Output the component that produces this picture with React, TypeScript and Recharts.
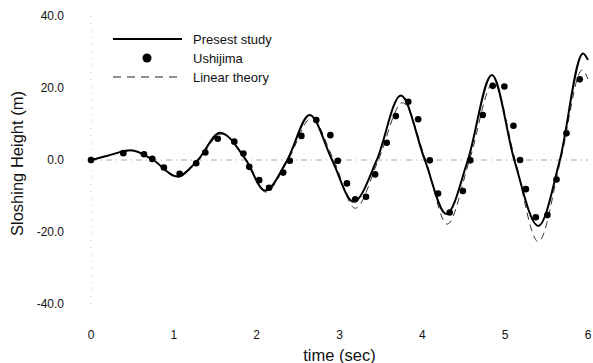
import React from "react"
import {
  ComposedChart,
  Line,
  Scatter,
  XAxis,
  YAxis,
  ReferenceLine,
} from "recharts"

// time (sec) ticks and sloshing height ticks
const timeTicks = [0, 1, 2, 3, 4, 5, 6]
const heightTicks = [-40, -20, 0, 20, 40]

// Presest study (solid line): extrema and zero crossings
const presestTime = [0, 0.2, 0.48, 0.75, 1.04, 1.29, 1.56, 1.87, 2.1, 2.37, 2.64, 2.91, 3.17, 3.45, 3.74, 4.03, 4.29, 4.55, 4.84, 5.11, 5.4, 5.66, 5.94, 6.0]
const presestHeight = [0, 1.2, 2.7, 0, -4.6, 0, 7.6, 0, -8.5, 0, 12.5, 0, -11.6, 0, 17.9, 0, -15.0, 0, 23.6, 0, -18.3, 0, 29.6, 27.8]

// Linear theory (dashed line)
const linearTime = [0, 0.2, 0.48, 0.75, 1.04, 1.3, 1.57, 1.88, 2.11, 2.38, 2.66, 2.93, 3.19, 3.47, 3.76, 4.04, 4.3, 4.57, 4.86, 5.12, 5.4, 5.67, 5.93, 6.0]
const linearHeight = [0, 1.2, 2.6, 0, -4.8, 0, 7.2, 0, -8.9, 0, 11.6, 0, -13.4, 0, 15.9, 0, -17.8, 0, 21.6, 0, -22.7, 0, 25.0, 22.5]

// Ushijima (dots)
const ushijimaTime = [0, 0.39, 0.64, 0.74, 0.88, 1.07, 1.27, 1.38, 1.53, 1.73, 1.84, 1.91, 2.03, 2.15, 2.32, 2.4, 2.54, 2.72, 2.89, 2.98, 3.09, 3.19, 3.32, 3.43, 3.57, 3.68, 3.83, 3.95, 4.09, 4.19, 4.33, 4.49, 4.58, 4.73, 4.85, 4.99, 5.1, 5.18, 5.25, 5.37, 5.51, 5.62, 5.74, 5.9]
const ushijimaHeight = [0, 1.9, 1.6, 0.3, -2.1, -3.8, -0.9, 2.1, 5.9, 5.1, 1.8, -1.9, -5.6, -7.7, -3.5, -0.2, 6.7, 11.1, 6.9, -0.2, -6.5, -10.9, -10.2, -4.0, 4.8, 12.2, 16.2, 11.3, -0.1, -9.3, -14.6, -8.6, -0.1, 12.5, 20.6, 20.4, 9.5, 0, -8.1, -15.9, -15.3, -5.4, 7.4, 22.4]

const presestData = presestTime.map((t, i) => ({ t, h: presestHeight[i] }))
const linearData = linearTime.map((t, i) => ({ t, h: linearHeight[i] }))
const ushijimaData = ushijimaTime.map((t, i) => ({ t, h: ushijimaHeight[i] }))

const font = "Liberation Sans, Arial, sans-serif"

function LegendBox() {
  return (
    <svg width={200} height={60} style={{ position: "absolute", top: 31, left: 105 }}>
      <line x1={8} y1={8} x2={77} y2={8} stroke="#000" strokeWidth={2} />
      <text x={88} y={12.5} fontSize={13} fontFamily={font} fill="#111">Presest study</text>
      <circle cx={42} cy={27} r={4.5} fill="#000" />
      <text x={88} y={31.5} fontSize={13} fontFamily={font} fill="#111">Ushijima</text>
      <line x1={8} y1={46} x2={74} y2={46} stroke="#222" strokeWidth={1} strokeDasharray="8 6" />
      <text x={88} y={50.5} fontSize={13} fontFamily={font} fill="#111">Linear theory</text>
    </svg>
  )
}

export default function App() {
  return (
    <div style={{ position: "fixed", top: 0, left: 0, width: 593, height: 363, background: "#fff" }}>
      <ComposedChart
        width={593}
        height={363}
        margin={{ top: 16, right: 5, bottom: 0, left: 0 }}
      >
        <XAxis
          type="number"
          dataKey="t"
          domain={[0, 6]}
          ticks={timeTicks}
          axisLine={false}
          tickLine={false}
          tickMargin={20}
          height={59}
          tick={{ fontSize: 12, fontFamily: font, fill: "#111" }}
          label={{ value: "time (sec)", position: "insideBottom", offset: 2, fontSize: 16.5, fontFamily: font, fill: "#111" }}
        />
        <YAxis
          type="number"
          dataKey="h"
          domain={[-40, 40]}
          ticks={heightTicks}
          width={91}
          axisLine={{ stroke: "#bbb", strokeDasharray: "1 6" }}
          tickLine={false}
          tickMargin={21}
          tickFormatter={(v: number) => v.toFixed(1)}
          tick={{ fontSize: 12, fontFamily: font, fill: "#111" }}
          label={{ value: "Sloshing Height (m)", angle: -90, position: "insideLeft", offset: 17, dy: 76, fontSize: 16.5, fontFamily: font, fill: "#111" }}
        />
        <ReferenceLine y={0} stroke="#aaa" strokeDasharray="6 4 1 4" />
        <Line
          data={linearData}
          dataKey="h"
          type="monotone"
          stroke="#333"
          strokeWidth={1}
          strokeDasharray="7 5"
          dot={false}
          isAnimationActive={false}
        />
        <Line
          data={presestData}
          dataKey="h"
          type="monotone"
          stroke="#000"
          strokeWidth={2}
          dot={false}
          isAnimationActive={false}
        />
        <Scatter
          data={ushijimaData}
          dataKey="h"
          fill="#000"
          shape={(p: any) => <circle cx={p.cx} cy={p.cy} r={3.3} fill="#000" />}
          isAnimationActive={false}
        />
      </ComposedChart>
      <LegendBox />
    </div>
  )
}
